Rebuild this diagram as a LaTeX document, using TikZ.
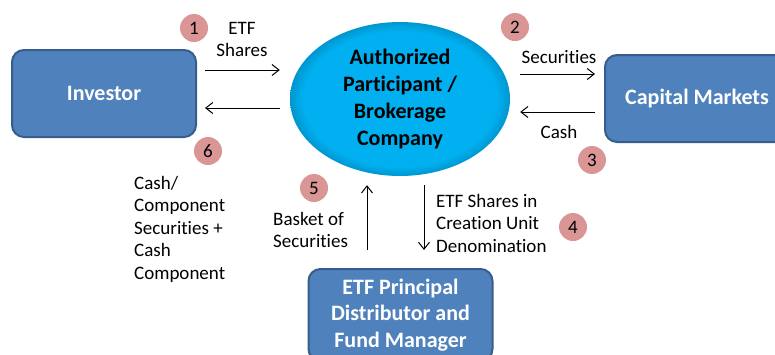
\documentclass[tikz,border=0pt]{standalone}
\usepackage{fontspec}
\setmainfont{Carlito}[Ligatures=NoCommon]
\usetikzlibrary{arrows.meta,shapes.geometric,calc}
\definecolor{boxblue}{HTML}{4F81BD}
\definecolor{boxedge}{HTML}{385D8A}
\definecolor{apblue}{HTML}{00B0F0}
\definecolor{apdark}{HTML}{0096CF}
\definecolor{numpink}{HTML}{D99694}
\pgfdeclareradialshading{apshade}{\pgfpoint{0bp}{0bp}}{color(0bp)=(apblue); color(22bp)=(apblue); color(25bp)=(apdark); color(50bp)=(apdark)}
\tikzset{
  boxnode/.style={draw=boxedge, line width=2pt, fill=boxblue, rounded corners=12pt,
    minimum width=184pt, minimum height=87pt, text=white,
    font=\fontsize{22}{26.7}\selectfont\bfseries, align=center, inner sep=0pt},
  apnode/.style={ellipse, shading=apshade, minimum width=220pt, minimum height=154pt,
    inner sep=0pt, font=\fontsize{22}{26.7}\selectfont\bfseries, align=center},
  numnode/.style={circle, fill=numpink, minimum size=28pt, inner sep=0pt,
    font=\fontsize{19}{22.5}\selectfont},
  lbl/.style={font=\fontsize{19}{22.5}\selectfont, inner sep=0pt},
  arr/.style={line width=1pt, -{Straight Barb[length=7pt,width=11pt]}},
}
\begin{document}
\begin{tikzpicture}[x=1pt,y=-1pt]
\useasboundingbox (0,0) rectangle (775,354);
% main nodes
\node[boxnode] (inv) at (104,93.5) {Investor};
\node[boxnode] (cap) at (697,98.5) {Capital Markets};
\node[boxnode, minimum height=92pt] (etf) at (400.5,315) {ETF Principal\\Distributor and\\Fund Manager};
\node[apnode] (ap) at (400,99) {Authorized\\Participant /\\Brokerage\\Company};
% arrows
\draw[arr] ([shift={(8,-23.5)}]inv.east) -- ([shift={(-10,-29)}]ap.west);
\draw[arr] ([shift={(-10,9)}]ap.west) -- ([shift={(8,14.5)}]inv.east);
\draw[arr] ([shift={(10,-25)}]ap.east) -- ([shift={(-9,-24.5)}]cap.west);
\draw[arr] ([shift={(-9,13.5)}]cap.west) -- ([shift={(10,13)}]ap.east);
\draw[arr] ([shift={(-33.5,-18)}]etf.north) -- ([shift={(-33,9)}]ap.south);
\draw[arr] ([shift={(24,9)}]ap.south) -- ([shift={(23.5,-18)}]etf.north);
% labels
\node[lbl, anchor=north, align=center] (l1) at (242,18.25) {\strut ETF\\Shares};
\node[lbl, anchor=base] (l2) at (559,63) {Securities};
\node[lbl, anchor=base] (l3) at (559,138) {Cash};
\node[lbl, anchor=north west, align=left] (l6) at (134,173.25) {\strut Cash/\\Component\\Securities +\\Cash\\Component};
\node[lbl, anchor=north west, align=left] (l5) at (273,209.25) {\strut Basket of\\Securities};
\node[lbl, anchor=north west, align=left] (l4) at (436,191.25) {\strut ETF Shares in\\Creation Unit\\Denomination};
% step numbers
\node[numnode] (n1) at (194,28) {1};
\node[numnode] (n2) at (515,27) {2};
\node[numnode] (n3) at (592,160) {3};
\node[numnode] (n4) at (573,227) {4};
\node[numnode] (n5) at (314,188) {5};
\node[numnode] (n6) at (208,151) {6};
\end{tikzpicture}
\end{document}
